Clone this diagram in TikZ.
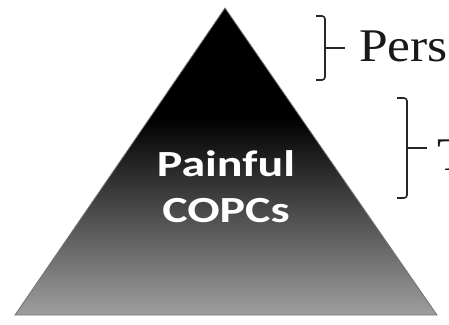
\documentclass[tikz,border=0pt]{standalone}
\usepackage{fontspec}
\setmainfont{Liberation Serif}
\newfontfamily\labelfont{Carlito}
\pgfdeclareverticalshading{pyramidshade}{100bp}{color(0bp)=(black!38); color(25bp)=(black!38); color(57bp)=(black); color(75bp)=(black); color(100bp)=(black)}
\tikzset{
  bracestroke/.style={line width=1.6pt, draw=black!85, rounded corners=3bp},
  sidetext/.style={font=\fontsize{47}{50}\selectfont, anchor=base west, inner sep=0pt, text=black!90, xscale=1.1},
  pyrtext/.style={font=\labelfont\bfseries\fontsize{37}{46}\selectfont, text=white, align=center, inner sep=0pt, xscale=1.3}
}
\begin{document}
\begin{tikzpicture}[x=1bp,y=-1bp]
\useasboundingbox (0,0) rectangle (449,324);
\clip (0,0) rectangle (449,324);
\fill[white] (0,0) rectangle (449,324);
\coordinate (apex) at (225,8);
\coordinate (bl) at (15,315);
\coordinate (br) at (437,315);
\shade[shading=pyramidshade, draw=black!55, line width=0.8pt] (apex) -- (br) -- (bl) -- cycle;
\node[pyrtext] (pain) at (226,187) {Painful\\COPCs};
% brace 1
\draw[bracestroke] (316,16) -- (325,16) -- (325,80) -- (316,80);
\coordinate (b1mid) at (325,48);
\coordinate (b1tip) at (345,48);
\draw[line width=1.6pt, draw=black!85] (b1mid) -- (b1tip);
\node[sidetext] (pers) at (359,61) {Pers};
% brace 2
\draw[bracestroke] (397,98) -- (407,98) -- (407,198) -- (397,198);
\coordinate (b2mid) at (407,148);
\coordinate (b2tip) at (427,148);
\draw[line width=1.6pt, draw=black!85] (b2mid) -- (b2tip);
\node[sidetext] (tx) at (437,170) {T};
\end{tikzpicture}
\end{document}
